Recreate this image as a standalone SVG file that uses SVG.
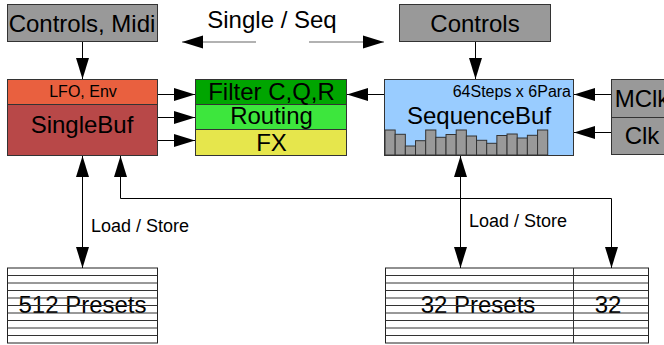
<svg xmlns="http://www.w3.org/2000/svg" width="664" height="345" viewBox="0 0 664 345">
<defs>
<style>
text{font-family:"Liberation Sans",Arial,sans-serif;fill:#000;text-anchor:middle}
.big{font-size:24px}
.sm{font-size:16px}
.lbl{font-size:18px;text-anchor:start}
.box{stroke:#333;stroke-width:1}
.gray{fill:#999}
.c{fill:none;stroke:#000;stroke-width:1}
.cg{fill:none;stroke:#666;stroke-width:1.2}
.bar{fill:#999;stroke:#333;stroke-width:1}
.row{stroke:#333;stroke-width:1}
</style>
<marker id="ah" markerUnits="userSpaceOnUse" markerWidth="22" markerHeight="14" refX="21" refY="7" orient="auto-start-reverse" viewBox="0 0 22 14">
<path d="M0,0.5 L21,7 L0,13.5 z" fill="#000"/>
</marker>
</defs>

<g id="controls-midi">
<rect class="box gray" x="7.5" y="4.5" width="150" height="37"/>
<text class="big" x="82" y="32">Controls, Midi</text>
</g>

<g id="single-seq-label">
<text class="big" x="272" y="28">Single / Seq</text>
</g>

<g id="controls">
<rect class="box gray" x="399.5" y="4.5" width="151" height="37"/>
<text class="big" x="475" y="32">Controls</text>
</g>

<g id="singlebuf">
<rect class="box" x="7.5" y="79.5" width="150" height="25" fill="#e9603f"/>
<rect class="box" x="7.5" y="104.5" width="150" height="51" fill="#b84848"/>
<text class="sm" x="83" y="97">LFO, Env</text>
<text class="big" x="82" y="133">SingleBuf</text>
</g>

<g id="filter">
<rect class="box" x="195.5" y="79.5" width="151" height="25" fill="#00a500"/>
<rect class="box" x="195.5" y="104.5" width="151" height="25" fill="#3de63d"/>
<rect class="box" x="195.5" y="129.5" width="151" height="26" fill="#e6e64c"/>
<text class="big" x="271.5" y="100">Filter C,Q,R</text>
<text class="big" x="271.5" y="124">Routing</text>
<text class="big" x="271.5" y="151">FX</text>
</g>

<g id="sequencebuf">
<rect class="box" x="384.5" y="79.5" width="189" height="76" fill="#99ccff"/>
<text class="sm" x="571" y="97" style="text-anchor:end">64Steps x 6Para</text>
<text class="big" x="479" y="124">SequenceBuf</text>
<rect class="bar" x="385" y="130" width="10.17" height="25"/>
<rect class="bar" x="395.17" y="134.3" width="10.17" height="20.7"/>
<rect class="bar" x="405.34" y="146" width="10.17" height="9"/>
<rect class="bar" x="415.51" y="140.7" width="10.17" height="14.3"/>
<rect class="bar" x="425.68" y="130" width="10.17" height="25"/>
<rect class="bar" x="435.85" y="137.3" width="10.17" height="17.7"/>
<rect class="bar" x="446.02" y="134.5" width="10.17" height="20.5"/>
<rect class="bar" x="456.19" y="130" width="10.17" height="25"/>
<rect class="bar" x="466.36" y="136" width="10.17" height="19"/>
<rect class="bar" x="476.53" y="140.3" width="10.17" height="14.7"/>
<rect class="bar" x="486.7" y="143.3" width="10.17" height="11.7"/>
<rect class="bar" x="496.87" y="135.5" width="10.17" height="19.5"/>
<rect class="bar" x="507.04" y="134" width="10.17" height="21"/>
<rect class="bar" x="517.21" y="138" width="10.17" height="17"/>
<rect class="bar" x="527.38" y="135.3" width="10.17" height="19.7"/>
<rect class="bar" x="537.55" y="130" width="10.17" height="25"/>
</g>

<g id="clocks">
<rect class="box gray" x="611.5" y="79.5" width="62" height="38"/>
<rect class="box gray" x="611.5" y="117.5" width="62" height="37"/>
<text class="big" x="642" y="107">MClk</text>
<text class="big" x="642" y="144">Clk</text>
</g>

<g id="presets512">
<rect x="7.5" y="268" width="150" height="75" fill="#fff" stroke="#222"/>
<text class="big" x="82.5" y="313">512 Presets</text>
<path class="row" d="M7.5,275.5H157.5M7.5,283H157.5M7.5,290.5H157.5M7.5,298H157.5M7.5,305.5H157.5M7.5,313H157.5M7.5,320.5H157.5M7.5,328H157.5M7.5,335.5H157.5"/>
</g>

<g id="presets32">
<rect x="385.5" y="268" width="263" height="75" fill="#fff" stroke="#222"/>
<text class="big" x="478" y="313">32 Presets</text>
<text class="big" x="608" y="313">32</text>
<path class="row" d="M385.5,275.5H648.5M385.5,283H648.5M385.5,290.5H648.5M385.5,298H648.5M385.5,305.5H648.5M385.5,313H648.5M385.5,320.5H648.5M385.5,328H648.5M385.5,335.5H648.5M573.5,268V343"/>
</g>

<g id="connectors">
<line class="c" x1="82.5" y1="42" x2="82.5" y2="79" marker-end="url(#ah)"/>
<line class="c" x1="475.5" y1="42" x2="475.5" y2="79" marker-end="url(#ah)"/>
<line class="cg" x1="256" y1="42" x2="182" y2="42" marker-end="url(#ah)"/>
<line class="cg" x1="309" y1="42" x2="384" y2="42" marker-end="url(#ah)"/>
<line class="c" x1="158" y1="94.5" x2="195" y2="94.5" marker-end="url(#ah)"/>
<line class="c" x1="158" y1="117.5" x2="195" y2="117.5" marker-end="url(#ah)"/>
<line class="c" x1="158" y1="140.5" x2="195" y2="140.5" marker-end="url(#ah)"/>
<line class="c" x1="384" y1="94.5" x2="347" y2="94.5" marker-end="url(#ah)"/>
<line class="c" x1="611" y1="94.5" x2="574" y2="94.5" marker-end="url(#ah)"/>
<line class="c" x1="611" y1="132.5" x2="574" y2="132.5" marker-end="url(#ah)"/>
<line class="c" x1="82.5" y1="156" x2="82.5" y2="268" marker-start="url(#ah)" marker-end="url(#ah)"/>
<line class="c" x1="460.5" y1="156" x2="460.5" y2="268" marker-start="url(#ah)" marker-end="url(#ah)"/>
<path class="c" stroke="#444" d="M120.5,156V198.5H611.5V268" marker-start="url(#ah)" marker-end="url(#ah)"/>
<text class="lbl" x="91" y="232">Load / Store</text>
<text class="lbl" x="469" y="227">Load / Store</text>
</g>
</svg>
